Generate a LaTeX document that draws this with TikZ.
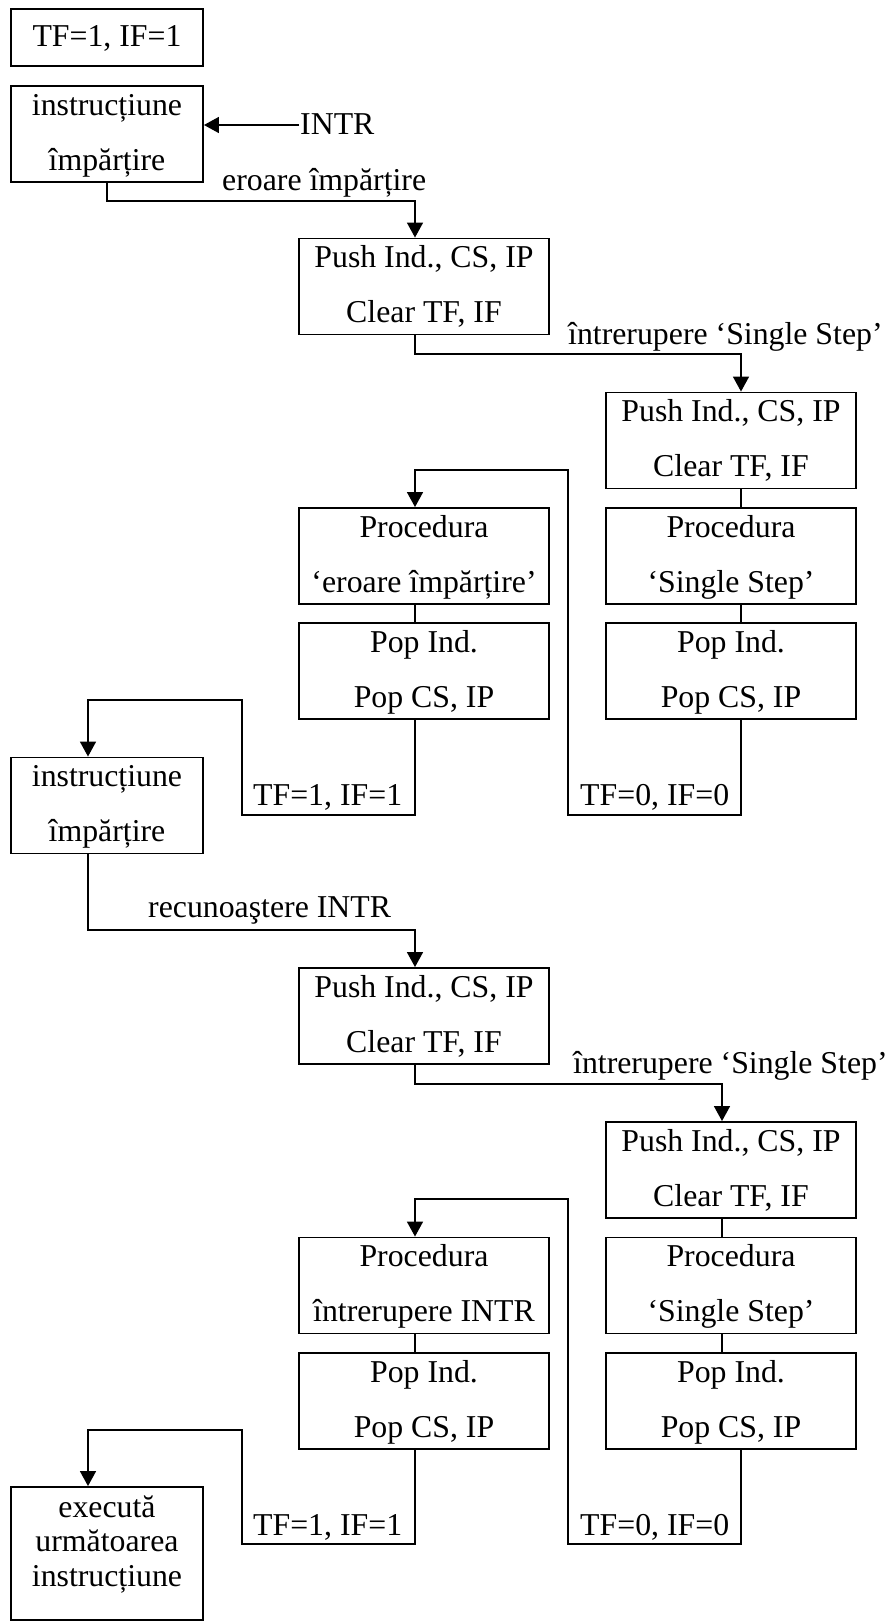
\documentclass[tikz,border=0pt]{standalone}
\usepackage{fontspec}
\setmainfont{Liberation Serif}
\usetikzlibrary{arrows.meta}
\newcommand\dfont{\fontsize{31.8pt}{38pt}\selectfont}
\newcommand\twolines[3]{%
  \node[txt] (#1a) at ([yshift=-30pt]#1.north) {#2};
  \node[txt] (#1b) at ([yshift=-85pt]#1.north) {#3};}
\begin{document}
\begin{tikzpicture}[x=1pt,y=-1pt,
  box/.style={draw, line width=1.9pt, inner sep=0pt, minimum width=250pt, minimum height=96pt},
  sbox/.style={box, minimum width=192pt},
  txt/.style={inner sep=0pt, anchor=base, font=\dfont},
  lbl/.style={inner sep=0pt, anchor=base west, font=\dfont},
  arr/.style={line width=1.6pt, -{Triangle[length=15pt,width=16pt]}},
  link/.style={line width=1.3pt},
]
\useasboundingbox (0,0) rectangle (889,1622);

% column x positions of connectors
\coordinate (xA) at (88,0);
\coordinate (xB) at (415,0);
\coordinate (xC) at (741,0);
\coordinate (xD) at (722,0);

% boxes
\node[sbox, minimum height=57pt] (tf0) at (107,37.5) {};
\node[txt] (tf0a) at ([yshift=-38pt]tf0.north) {TF=1, IF=1};

\node[sbox] (instr1) at (107,134) {};
\twolines{instr1}{instrucțiune}{împărțire}

\node[box] (push1) at (424,286.5) {};
\twolines{push1}{Push Ind., CS, IP}{Clear TF, IF}

\node[box] (push2) at (731,440.5) {};
\twolines{push2}{Push Ind., CS, IP}{Clear TF, IF}

\node[box] (proc1) at (424,556) {};
\twolines{proc1}{Procedura}{‘eroare împărțire’}
\node[box] (pop1) at (424,671) {};
\twolines{pop1}{Pop Ind.}{Pop CS, IP}

\node[box] (proc2) at (731,556) {};
\twolines{proc2}{Procedura}{‘Single Step’}
\node[box] (pop2) at (731,671) {};
\twolines{pop2}{Pop Ind.}{Pop CS, IP}

\node[sbox] (instr2) at (107,805.5) {};
\twolines{instr2}{instrucțiune}{împărțire}

\node[box] (push3) at (424,1016) {};
\twolines{push3}{Push Ind., CS, IP}{Clear TF, IF}

\node[box] (push4) at (731,1170) {};
\twolines{push4}{Push Ind., CS, IP}{Clear TF, IF}

\node[box] (proc3) at (424,1285.5) {};
\twolines{proc3}{Procedura}{întrerupere INTR}
\node[box] (pop3) at (424,1401) {};
\twolines{pop3}{Pop Ind.}{Pop CS, IP}

\node[box] (proc4) at (731,1285.5) {};
\twolines{proc4}{Procedura}{‘Single Step’}
\node[box] (pop4) at (731,1401) {};
\twolines{pop4}{Pop Ind.}{Pop CS, IP}

\node[sbox, minimum height=133pt] (exec) at (107,1553.5) {};
\node[txt] (execa) at ([yshift=-31pt]exec.north) {execută};
\node[txt] (execb) at ([yshift=-65pt]exec.north) {următoarea};
\node[txt] (execc) at ([yshift=-100pt]exec.north) {instrucțiune};

% INTR input
\node[lbl] (intr) at (300,134) {INTR};
\coordinate (intrA) at (299,125);
\draw[arr] (intrA) -- (intrA -| instr1.east);

% connectors, first half
\coordinate (k1) at (107,201);
\draw[arr] (instr1.south) -- (k1) -| (xB |- push1.north);
\node[lbl] (l1) at (222,190) {eroare împărțire};

\coordinate (k2) at (415,354);
\draw[arr] (xB |- push1.south) -- (k2) -| (xC |- push2.north);
\node[lbl] (l2) at (568,344) {întrerupere ‘Single Step’};

\draw[link] (xC |- push2.south) -- (xC |- proc2.north);
\draw[link] (xC |- proc2.south) -- (xC |- pop2.north);
\draw[link] (xB |- proc1.south) -- (xB |- pop1.north);

\coordinate (r1) at (568,815);
\coordinate (r2) at (568,470);
\draw[arr] (xC |- pop2.south) |- (r1) -- (r2) -| (xB |- proc1.north);
\node[lbl] (l3) at (580,805) {TF=0, IF=0};

\coordinate (r3) at (242,815);
\coordinate (r4) at (242,700);
\draw[arr] (xB |- pop1.south) |- (r3) -- (r4) -| (xA |- instr2.north);
\node[lbl] (l4) at (253,805) {TF=1, IF=1};

\coordinate (k6) at (88,930);
\draw[arr] (xA |- instr2.south) -- (k6) -| (xB |- push3.north);
\node[lbl] (l5) at (148,917) {recunoaştere INTR};

% connectors, second half
\coordinate (k7) at (415,1084);
\draw[arr] (xB |- push3.south) -- (k7) -| (xD |- push4.north);
\node[lbl] (l6) at (573,1073) {întrerupere ‘Single Step’};

\draw[link] (xD |- push4.south) -- (xD |- proc4.north);
\draw[link] (xD |- proc4.south) -- (xD |- pop4.north);
\draw[link] (xB |- proc3.south) -- (xB |- pop3.north);

\coordinate (r5) at (568,1544);
\coordinate (r6) at (568,1199);
\draw[arr] (xC |- pop4.south) |- (r5) -- (r6) -| (xB |- proc3.north);
\node[lbl] (l7) at (580,1535) {TF=0, IF=0};

\coordinate (r7) at (242,1544);
\coordinate (r8) at (242,1430);
\draw[arr] (xB |- pop3.south) |- (r7) -- (r8) -| (xA |- exec.north);
\node[lbl] (l8) at (253,1535) {TF=1, IF=1};
\end{tikzpicture}
\end{document}
